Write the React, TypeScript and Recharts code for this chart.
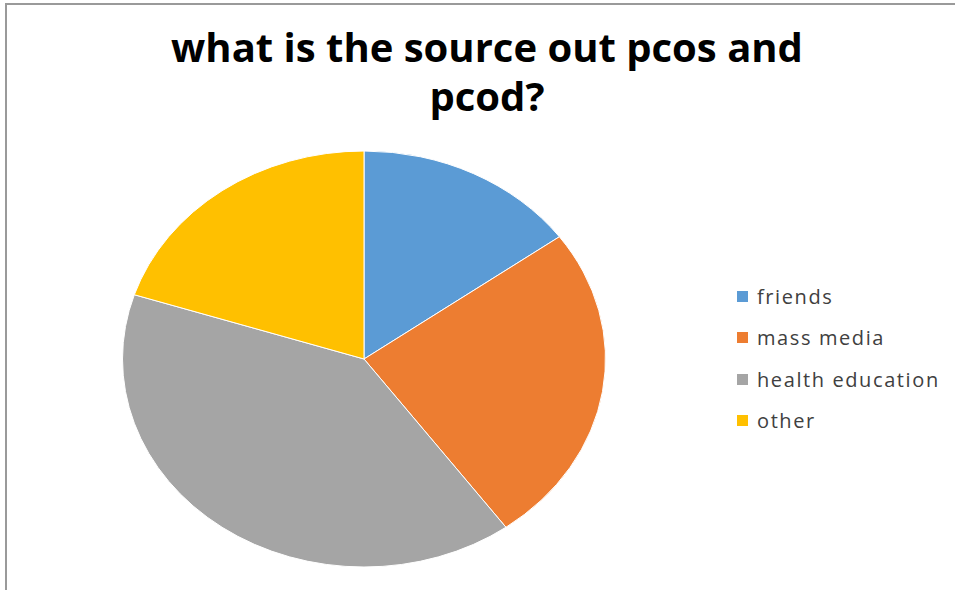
import React from "react";
import { PieChart, Pie, Cell, Legend } from "recharts";

const categories = ["friends", "mass media", "health education", "other"];
const values = [15, 25, 40, 20];
const colors = ["#5B9BD5", "#ED7D31", "#A5A5A5", "#FFC000"];
const title = "what is the source out pcos and pcod?";

const data = categories.map((name, i) => ({ name, value: values[i] }));

const X_STRETCH = 241.5 / 208;
const RADIAN = Math.PI / 180;

function EllipseSector(props: any) {
  const { cx, cy, outerRadius, startAngle, endAngle, fill } = props;
  const rx = outerRadius * X_STRETCH;
  const ry = outerRadius;
  const p = (a: number) => [cx + rx * Math.cos(-a * RADIAN), cy + ry * Math.sin(-a * RADIAN)];
  const [x1, y1] = p(startAngle);
  const [x2, y2] = p(endAngle);
  const delta = startAngle - endAngle;
  const large = Math.abs(delta) > 180 ? 1 : 0;
  const sweep = delta > 0 ? 1 : 0;
  const d = `M${cx},${cy} L${x1},${y1} A${rx},${ry} 0 ${large} ${sweep} ${x2},${y2} Z`;
  return <path d={d} fill={fill} stroke="#ffffff" strokeWidth={1} />;
}

function LegendContent() {
  return (
    <div style={{ fontFamily: "'Open Sans', sans-serif", fontSize: 20, letterSpacing: 1.6, color: "#404040" }}>
      {categories.map((c, i) => (
        <div key={c} style={{ display: "flex", alignItems: "center", height: 41.3 }}>
          <span style={{ display: "inline-block", width: 11, height: 11, background: colors[i], marginRight: 9 }} />
          <span>{c}</span>
        </div>
      ))}
    </div>
  );
}

export default function App() {
  return (
    <div style={{ position: "absolute", left: 0, top: 0, width: 955, height: 590, background: "#fff", overflow: "hidden" }}>
      <div style={{ position: "absolute", left: 5, top: 3, width: 1000, height: 700, borderLeft: "2px solid #9a9a9a", borderTop: "2px solid #9a9a9a" }} />
      <div style={{ position: "absolute", left: 147, top: 22, width: 680, textAlign: "center", fontFamily: "'Open Sans', sans-serif", fontWeight: 700, fontSize: 40, lineHeight: "49px", color: "#000" }}>
        {title}
      </div>
      <div style={{ position: "absolute", left: 0, top: 0 }}>
        <PieChart width={955} height={590} margin={{ top: 0, right: 0, bottom: 0, left: 0 }}>
          <Pie
            data={data}
            dataKey="value"
            nameKey="name"
            cx={364}
            cy={359}
            outerRadius={208}
            startAngle={90}
            endAngle={-270}
            isAnimationActive={false}
            shape={EllipseSector}
            activeShape={EllipseSector}
            inactiveShape={EllipseSector}
            stroke="#ffffff"
          >
            {data.map((d, i) => (
              <Cell key={d.name} fill={colors[i]} />
            ))}
          </Pie>
          <Legend content={LegendContent} wrapperStyle={{ left: 737, top: 276, width: 230 }} />
        </PieChart>
      </div>
    </div>
  );
}
